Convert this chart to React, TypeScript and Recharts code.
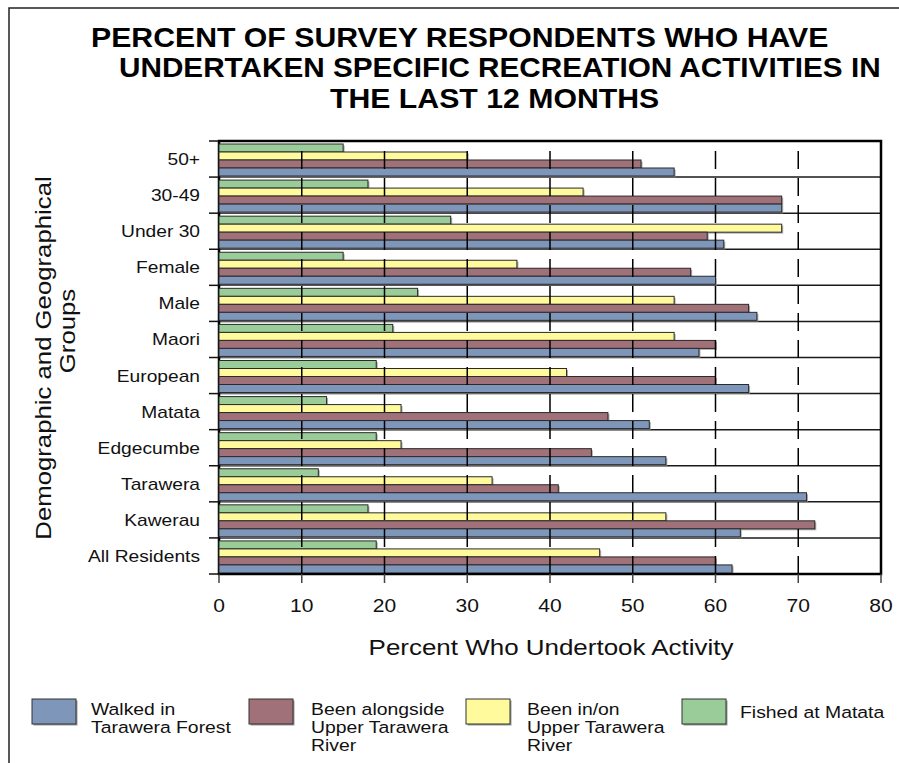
import React from 'react';
import {
  BarChart,
  Bar,
  XAxis,
  YAxis,
  CartesianGrid,
  ReferenceLine,
  ReferenceArea,
} from 'recharts';

// groups, top to bottom as drawn
const groups = ['50+', '30-49', 'Under 30', 'Female', 'Male', 'Maori', 'European', 'Matata', 'Edgecumbe', 'Tarawera', 'Kawerau', 'All Residents'];
const walked = [55, 68, 61, 60, 65, 58, 64, 52, 54, 71, 63, 62];
const alongside = [51, 68, 59, 57, 64, 60, 60, 47, 45, 41, 72, 60];
const inOn = [30, 44, 68, 36, 55, 55, 42, 22, 22, 33, 54, 46];
const fished = [15, 18, 28, 15, 24, 21, 19, 13, 19, 12, 18, 19];

const xTicks = [0, 10, 20, 30, 40, 50, 60, 70, 80];
const dashedAt = [10, 20, 30, 40, 50, 60, 70];

const titleLines = [
  'PERCENT OF SURVEY RESPONDENTS WHO HAVE',
  'UNDERTAKEN SPECIFIC RECREATION ACTIVITIES IN',
  'THE LAST 12 MONTHS',
];
const yTitleLines = ['Demographic and Geographical', 'Groups'];
const xTitle = 'Percent Who Undertook Activity';

const series = [
  { key: 'walked', lines: ['Walked in', 'Tarawera Forest'], color: '#7f96bb' },
  { key: 'alongside', lines: ['Been alongside', 'Upper Tarawera', 'River'], color: '#a07178' },
  { key: 'inOn', lines: ['Been in/on', 'Upper Tarawera', 'River'], color: '#fffa9c' },
  { key: 'fished', lines: ['Fished at Matata'], color: '#99cc99' },
];

const data = groups.map((g, i) => ({
  group: g,
  walked: walked[i],
  alongside: alongside[i],
  inOn: inOn[i],
  fished: fished[i],
}));

const FONT = '"Liberation Sans", Arial, sans-serif';
const W = 899;
const H = 763;
const PLOT_TOP = 141;
const PLOT_BOTTOM = 574;
const PLOT_LEFT = 219;
const PLOT_RIGHT = 881;

const colorOf = (k: string) => series.find((s) => s.key === k)!.color;

const ShadowBar = (props: any) => {
  const { x, y, width, height, fill } = props;
  if (!width || width <= 0) return null;
  return (
    <g>
      <rect x={x + 1.5} y={y + 1.5} width={width} height={height} fill="#8c8c8c" opacity={0.7} />
      <rect x={x} y={y} width={width} height={height} fill={fill} stroke="#2a2a2a" strokeWidth={1} />
    </g>
  );
};

const GroupTick = (props: any) => {
  const { x, y, payload, index } = props;
  const half = payload && payload.offset ? payload.offset : (PLOT_BOTTOM - PLOT_TOP) / groups.length / 2;
  return (
    <g>
      <text
        x={0}
        y={0}
        transform={`translate(${x},${y + 6}) scale(1.2,1)`}
        textAnchor="end"
        fontFamily={FONT}
        fontSize={16}
        fill="#111"
      >
        {payload.value}
      </text>
      <line x1={x + 9} x2={x + 19} y1={y - half} y2={y - half} stroke="#111" strokeWidth={1.5} />
      {index === groups.length - 1 && (
        <line x1={x + 9} x2={x + 19} y1={y + half} y2={y + half} stroke="#111" strokeWidth={1.5} />
      )}
    </g>
  );
};

const PercentTick = (props: any) => {
  const { x, y, payload } = props;
  return (
    <text
      x={0}
      y={0}
      transform={`translate(${x},${y + 13}) scale(1.17,1)`}
      textAnchor="middle"
      fontFamily={FONT}
      fontSize={18}
      fill="#111"
    >
      {payload.value}
    </text>
  );
};

const Overlay = () => {
  const legendX = [
    { sw: 32, tx: 91 },
    { sw: 249, tx: 311 },
    { sw: 466, tx: 527 },
    { sw: 682, tx: 740 },
  ];
  const titlePos = [
    { x: 91, y: 47, s: 1.12 },
    { x: 119, y: 77, s: 1.1 },
    { x: 330, y: 108, s: 1.12 },
  ];
  return (
    <svg width={W} height={H} style={{ position: 'absolute', left: 0, top: 0, pointerEvents: 'none' }}>
      <polyline points={`9,${H} 9,8 ${W},8`} fill="none" stroke="#222" strokeWidth={1.5} />
      {titleLines.map((t, i) => (
        <text
          key={t}
          x={0}
          y={0}
          transform={`translate(${titlePos[i].x},${titlePos[i].y}) scale(${titlePos[i].s},1)`}
          fontFamily={FONT}
          fontWeight="bold"
          fontSize={27}
          fill="#000"
        >
          {t}
        </text>
      ))}
      {yTitleLines.map((t, i) => (
        <text
          key={t}
          x={0}
          y={0}
          transform={`translate(${[51, 75][i]},${[358, 331][i]}) rotate(-90) scale(1.17,1)`}
          textAnchor="middle"
          fontFamily={FONT}
          fontSize={22}
          fill="#111"
        >
          {t}
        </text>
      ))}
      <text
        x={0}
        y={0}
        transform="translate(551,655) scale(1.18,1)"
        textAnchor="middle"
        fontFamily={FONT}
        fontSize={22}
        fill="#111"
      >
        {xTitle}
      </text>
      {series.map((s, i) => (
        <g key={s.key}>
          <rect x={legendX[i].sw + 1.5} y={700.5} width={44} height={25} fill="#999" />
          <rect x={legendX[i].sw} y={699} width={44} height={25} fill={s.color} stroke="#333" strokeWidth={1} />
          {s.lines.map((l, j) => (
            <text
              key={j}
              x={0}
              y={0}
              transform={`translate(${legendX[i].tx},${(s.lines.length === 1 ? 718 : 715) + j * 18}) scale(1.14,1)`}
              fontFamily={FONT}
              fontSize={17}
              fill="#111"
            >
              {l}
            </text>
          ))}
        </g>
      ))}
    </svg>
  );
};

export default function App() {
  const rowLines = ({ offset }: any) =>
    groups.map((_, i) => offset.top + (i * offset.height) / groups.length).slice(1);

  return (
    <div style={{ position: 'absolute', left: 0, top: 0, width: W, height: H, background: '#fff' }}>
      <BarChart
        width={W}
        height={H}
        data={data}
        layout="vertical"
        barCategoryGap={3}
        barGap={0}
        margin={{ top: PLOT_TOP, right: W - PLOT_RIGHT, bottom: H - PLOT_BOTTOM - 30, left: 0 }}
      >
        <CartesianGrid
          vertical={false}
          stroke="#1a1a1a"
          strokeWidth={1.5}
          horizontalCoordinatesGenerator={rowLines}
        />
        <XAxis
          type="number"
          domain={[0, 80]}
          ticks={xTicks}
          interval={0}
          height={30}
          tickSize={9}
          tickMargin={16}
          tickLine={{ stroke: '#444', strokeWidth: 1.5 }}
          axisLine={{ stroke: '#000', strokeWidth: 2 }}
          tick={<PercentTick />}
        />
        <YAxis
          type="category"
          dataKey="group"
          width={PLOT_LEFT}
          tickSize={0}
          tickMargin={19}
          tickLine={false}
          axisLine={false}
          interval={0}
          tick={<GroupTick />}
        />
        <Bar dataKey="fished" fill={colorOf('fished')} shape={<ShadowBar />} isAnimationActive={false} />
        <Bar dataKey="inOn" fill={colorOf('inOn')} shape={<ShadowBar />} isAnimationActive={false} />
        <Bar dataKey="alongside" fill={colorOf('alongside')} shape={<ShadowBar />} isAnimationActive={false} />
        <Bar dataKey="walked" fill={colorOf('walked')} shape={<ShadowBar />} isAnimationActive={false} />
        {dashedAt.map((v) => (
          <ReferenceLine key={v} x={v} stroke="#000" strokeWidth={1.5} strokeDasharray="18 9" />
        ))}
        <ReferenceArea x1={0} x2={80} fill="none" fillOpacity={0} stroke="#000" strokeWidth={2.5} />
      </BarChart>
      <Overlay />
    </div>
  );
}
